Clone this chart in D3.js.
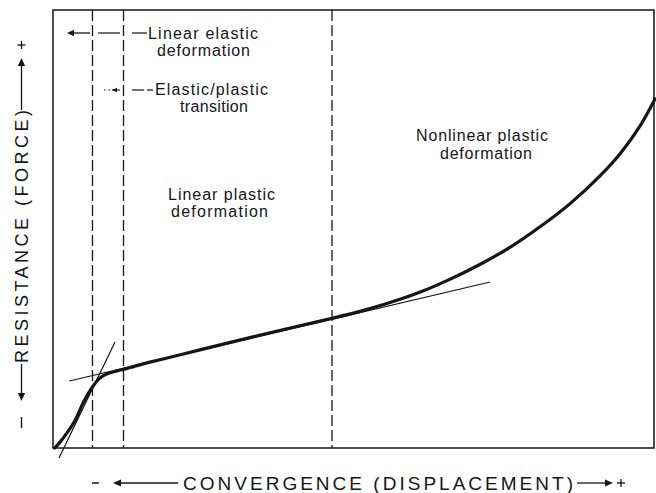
<!DOCTYPE html>
<html><head><meta charset="utf-8">
<script src="https://cdn.jsdelivr.net/npm/d3@7"></script>
<style>body{margin:0;background:#fff}svg{display:block}</style>
</head><body><svg id="c" width="656" height="493"></svg>
<script>
// ---- data (abstract units: displacement 0-100, force 0-100) ----
const curveX = [0.3, 1.2, 2.3, 3.7, 5.0, 6.2, 7.0, 7.8, 9.1, 10.6, 11.8, 13.6, 16.1, 20.3, 24.4, 32.7, 41.0, 46.0, 51.0, 56.0, 61.0, 65.9, 70.9, 75.9, 80.9, 85.9, 90.9, 94.2, 97.5, 100.0];
const curveY = [0.0, 1.4, 3.4, 6.4, 10.3, 13.2, 14.8, 16.0, 17.0, 17.6, 18.0, 18.7, 19.6, 21.0, 22.4, 25.2, 27.9, 29.5, 31.2, 33.2, 35.6, 38.5, 41.9, 45.8, 50.5, 55.8, 62.2, 67.2, 73.5, 79.7];
const elasticTangentX = [1.0, 10.3];
const elasticTangentY = [-2.3, 24.2];
const plasticTangentX = [2.7, 72.6];
const plasticTangentY = [15.3, 37.9];
const boundaryX = [6.56, 11.71, 46.35];
const regionLabels = [
  ["Linear elastic", "deformation"],
  ["Elastic/plastic", "transition"],
  ["Linear plastic", "deformation"],
  ["Nonlinear plastic", "deformation"]
];
const xAxisLabel = "CONVERGENCE (DISPLACEMENT)";
const yAxisLabel = "RESISTANCE (FORCE)";

// ---- layout ----
const svg = d3.select("#c");
const L = 53, R = 655, T = 10, B = 448;
const x = d3.scaleLinear().domain([0, 100]).range([L, R]);
const y = d3.scaleLinear().domain([0, 100]).range([B, T]);
const ink = "#151515";
const font = "'Liberation Sans', Arial, Helvetica, sans-serif";

// frame
svg.append("rect").attr("x", L).attr("y", T).attr("width", R - L - 1).attr("height", B - T)
  .attr("fill", "none").attr("stroke", ink).attr("stroke-width", 1.5);

// boundaries
svg.selectAll("line.bd").data(boundaryX).join("line").attr("class", "bd")
  .attr("x1", d => x(d)).attr("x2", d => x(d)).attr("y1", T).attr("y2", B)
  .attr("stroke", ink).attr("stroke-width", 1.3).attr("stroke-dasharray", "11,4");

// tangent lines
const tangents = [[elasticTangentX, elasticTangentY], [plasticTangentX, plasticTangentY]];
svg.selectAll("line.tg").data(tangents).join("line").attr("class", "tg")
  .attr("x1", d => x(d[0][0])).attr("y1", d => y(d[1][0]))
  .attr("x2", d => x(d[0][1])).attr("y2", d => y(d[1][1]))
  .attr("stroke", ink).attr("stroke-width", 1.2);

// main curve
const pts = curveX.map((v, i) => [v, curveY[i]]);
svg.append("path").datum(pts)
  .attr("d", d3.line().x(d => x(d[0])).y(d => y(d[1])).curve(d3.curveCatmullRom.alpha(0.5)))
  .attr("fill", "none").attr("stroke", ink).attr("stroke-width", 3.2).attr("stroke-linecap", "round");

// helpers
function arrowHead(px, py, dir, size) {
  const s = size || 6, w = s * 0.45;
  let p;
  if (dir === 'l') p = [[px, py], [px + s, py - w], [px + s, py + w]];
  if (dir === 'r') p = [[px, py], [px - s, py - w], [px - s, py + w]];
  if (dir === 'u') p = [[px, py], [px - w, py + s], [px + w, py + s]];
  if (dir === 'd') p = [[px, py], [px - w, py - s], [px + w, py - s]];
  svg.append("path").attr("d", "M" + p.map(q => q.join(",")).join("L") + "Z").attr("fill", ink);
}
function seg(x1, y1, x2, y2, sw, dash) {
  const l = svg.append("line").attr("x1", x1).attr("y1", y1).attr("x2", x2).attr("y2", y2)
    .attr("stroke", ink).attr("stroke-width", sw || 1.2);
  if (dash) l.attr("stroke-dasharray", dash);
}

// region labels
const labelPos = [
  [[148, 39, 110], [157, 56, 93]],
  [[155, 95, 113], [180, 112, 68]],
  [[168, 200, 107], [171, 217, 97]],
  [[416, 141, 132], [440, 159, 92]]
];
regionLabels.forEach((lines, i) => {
  lines.forEach((t, j) => {
    const [px, py, len] = labelPos[i][j];
    svg.append("text").attr("x", px).attr("y", py).text(t)
      .attr("font-family", font).attr("font-size", 16).attr("fill", ink)
      .attr("textLength", len).attr("lengthAdjust", "spacing");
  });
});

// leaders row 1
seg(70, 33, 90, 33, 1.3); arrowHead(67, 33, 'l', 7);
seg(98, 33, 120, 33, 1.2);
seg(132, 33, 147, 33, 1.2);
// leaders row 2
seg(104, 90, 112, 90, 1.1, "1.5,3");
seg(112, 90, 120, 90, 1.1); arrowHead(112, 90, 'l', 5);
seg(132, 90, 144, 90, 1.2); seg(147, 90, 153, 90, 1.2);

// y axis label
svg.append("text").attr("transform", "translate(28,236.5) rotate(-90)")
  .attr("text-anchor", "middle").text(yAxisLabel)
  .attr("font-family", font).attr("font-size", 18).attr("fill", ink)
  .attr("textLength", 253).attr("lengthAdjust", "spacing");
seg(21.5, 110, 21.5, 64, 1.3); arrowHead(21.5, 58, 'u', 8);
seg(17.5, 45, 25.5, 45, 1.3); seg(21.5, 41, 21.5, 49, 1.3);
seg(21.5, 364, 21.5, 394, 1.3); arrowHead(21.5, 401, 'd', 8);
seg(21.5, 417, 21.5, 428, 1.4);

// x axis label
svg.append("text").attr("x", 183).attr("y", 490).text(xAxisLabel)
  .attr("font-family", font).attr("font-size", 19).attr("fill", ink)
  .attr("textLength", 390).attr("lengthAdjust", "spacing");
seg(120, 483, 178, 483, 1.3); arrowHead(113, 483, 'l', 8);
seg(92, 483, 99, 483, 1.5);
seg(577, 483, 606, 483, 1.3); arrowHead(613, 483, 'r', 8);
seg(617, 483, 625, 483, 1.3); seg(621, 479, 621, 487, 1.3);
</script></body></html>
